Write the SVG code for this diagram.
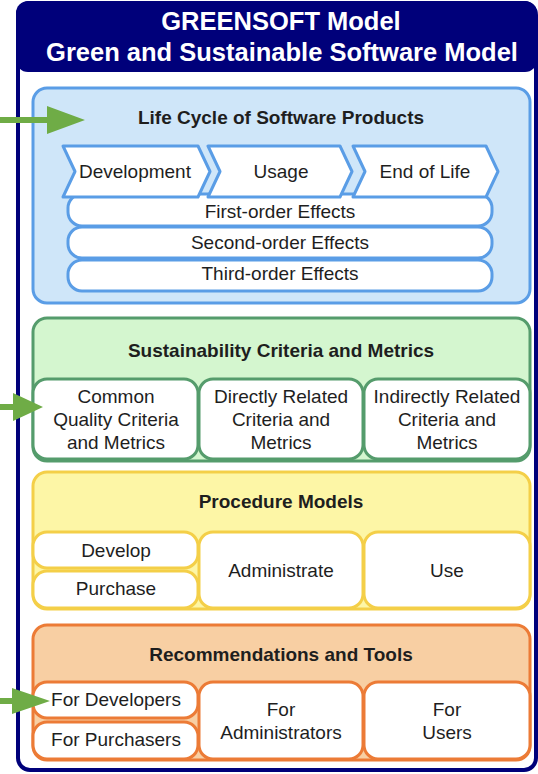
<svg xmlns="http://www.w3.org/2000/svg" width="538" height="774" viewBox="0 0 538 774">
<style>
text{font-family:"Liberation Sans",Arial,sans-serif;fill:#1e1e1e;text-anchor:middle}
.hd{fill:#fff;font-weight:bold;font-size:25.5px}
.t{font-weight:bold;font-size:19px}
.s{font-size:19px}
.blue{fill:#cfe6f9;stroke:#5a9de6;stroke-width:3}
.bw{fill:#fff;stroke:#5a9de6;stroke-width:3;stroke-linejoin:round}
.green{fill:#d4f6cf;stroke:#559c6c;stroke-width:3}
.gw{fill:#fff;stroke:#559c6c;stroke-width:3}
.yel{fill:#fdf6a6;stroke:#f4cf48;stroke-width:3}
.yw{fill:#fff;stroke:#f4cf48;stroke-width:3}
.or{fill:#f8cfa3;stroke:#ec7b36;stroke-width:3}
.ow{fill:#fff;stroke:#ec7b36;stroke-width:3}
.arr{fill:#6fac46}
</style>
<g id="frame">
<rect x="18" y="3" width="518" height="767" rx="12" fill="#fff" stroke="#00007a" stroke-width="4"/>
<rect x="16" y="1" width="521" height="71" rx="12" fill="#00007a"/>
<text class="hd" x="281" y="30">GREENSOFT Model</text>
<text class="hd" x="282" y="61">Green and Sustainable Software Model</text>
</g>
<g id="lifecycle">
<rect class="blue" x="33" y="88" width="497" height="215" rx="14"/>
<text class="t" x="281" y="124">Life Cycle of Software Products</text>
<rect class="bw" x="68" y="260" width="424" height="31" rx="14"/>
<rect class="bw" x="68" y="227" width="424" height="31" rx="14"/>
<rect class="bw" x="68" y="194" width="424" height="32" rx="14"/>
<text class="s" x="280" y="218">First-order Effects</text>
<text class="s" x="280" y="249">Second-order Effects</text>
<text class="s" x="280" y="280">Third-order Effects</text>
</g>
<g id="development">
<polygon class="bw" points="63,146 198,146 210,171.5 198,197 63,197 75,171.5"/>
<text class="s" x="135" y="178">Development</text>
</g>
<g id="usage">
<polygon class="bw" points="208,146 340,146 352,171.5 340,197 208,197 220,171.5"/>
<text class="s" x="281" y="178">Usage</text>
</g>
<g id="endoflife">
<polygon class="bw" points="353,146 486,146 498,171.5 486,197 353,197 365,171.5"/>
<text class="s" x="425" y="178">End of Life</text>
</g>
<g id="criteria">
<rect class="green" x="33" y="318" width="497" height="143" rx="14"/>
<text class="t" x="281" y="357">Sustainability Criteria and Metrics</text>
<rect class="gw" x="33" y="379" width="165" height="80" rx="14"/>
<text class="s" x="116" y="403">Common</text>
<text class="s" x="116" y="426">Quality Criteria</text>
<text class="s" x="116" y="449">and Metrics</text>
<rect class="gw" x="199" y="379" width="164" height="80" rx="14"/>
<text class="s" x="281" y="403">Directly Related</text>
<text class="s" x="281" y="426">Criteria and</text>
<text class="s" x="281" y="449">Metrics</text>
<rect class="gw" x="364" y="379" width="166" height="80" rx="14"/>
<text class="s" x="447" y="403">Indirectly Related</text>
<text class="s" x="447" y="426">Criteria and</text>
<text class="s" x="447" y="449">Metrics</text>
</g>
<g id="procedure">
<rect class="yel" x="33" y="472" width="497" height="137" rx="14"/>
<text class="t" x="281" y="508">Procedure Models</text>
<rect class="yw" x="33" y="532" width="165" height="36" rx="14"/>
<text class="s" x="116" y="557">Develop</text>
<rect class="yw" x="33" y="571" width="165" height="37" rx="14"/>
<text class="s" x="116" y="595">Purchase</text>
<rect class="yw" x="199" y="532" width="164" height="76" rx="14"/>
<text class="s" x="281" y="577">Administrate</text>
<rect class="yw" x="364" y="532" width="166" height="76" rx="14"/>
<text class="s" x="447" y="577">Use</text>
</g>
<g id="recommendations">
<rect class="or" x="33" y="625" width="497" height="135" rx="14"/>
<text class="t" x="281" y="661">Recommendations and Tools</text>
<rect class="ow" x="33" y="682" width="165" height="36" rx="14"/>
<text class="s" x="116" y="706">For Developers</text>
<rect class="ow" x="33" y="722" width="165" height="37" rx="14"/>
<text class="s" x="116" y="746">For Purchasers</text>
<rect class="ow" x="199" y="682" width="164" height="77" rx="14"/>
<text class="s" x="281" y="716">For</text>
<text class="s" x="281" y="739">Administrators</text>
<rect class="ow" x="364" y="682" width="166" height="77" rx="14"/>
<text class="s" x="447" y="716">For</text>
<text class="s" x="447" y="739">Users</text>
</g>
<g id="connectors">
<path class="arr" d="M0,117 H47 V106 L85,120 L47,134 V123 H0 Z"/>
<path class="arr" d="M0,404 H13 V393 L43,407 L13,421 V410 H0 Z"/>
<path class="arr" d="M0,698 H12 V688 L50,701 L12,714 V704 H0 Z"/>
</g>
</svg>
